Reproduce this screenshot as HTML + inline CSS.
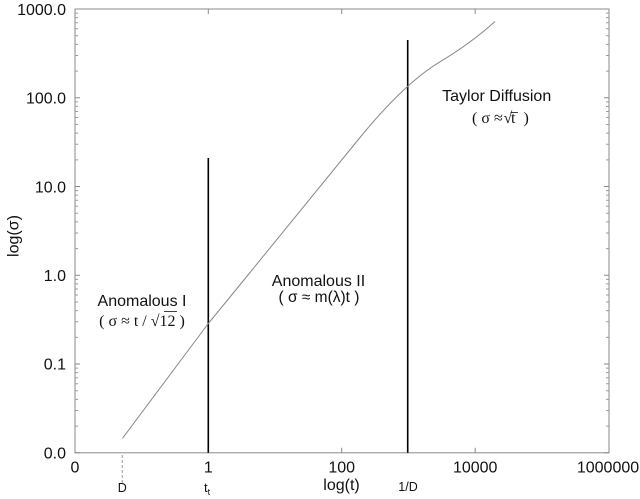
<!DOCTYPE html>
<html>
<head>
<meta charset="utf-8">
<style>
  html, body { margin: 0; padding: 0; background: #ffffff; }
  svg { display: block; }
  .sans { font-family: "Liberation Sans", "DejaVu Sans", sans-serif; }
  .serif { font-family: "Liberation Serif", "DejaVu Serif", serif; }
</style>
</head>
<body>
<svg width="640" height="499" viewBox="0 0 640 499" xmlns="http://www.w3.org/2000/svg">
  <rect x="0" y="0" width="640" height="499" fill="#ffffff"/>

  <!-- frame -->
  <rect x="75" y="9" width="534" height="443.8" fill="none" stroke="#8a8a8a" stroke-width="1"/>

  <!-- major y ticks left & right -->
  <path d="M75 9 h5 M75 97.8 h5 M75 186.55 h5 M75 275.3 h5 M75 364.05 h5 M75 452.8 h5
           M609 9 h-5 M609 97.8 h-5 M609 186.55 h-5 M609 275.3 h-5 M609 364.05 h-5 M609 452.8 h-5"
        stroke="#8a8a8a" stroke-width="1" fill="none"/>

  <!-- minor y ticks left -->
  <path d="M75 426.08 h3 M75 410.46 h3 M75 399.37 h3 M75 390.77 h3 M75 383.74 h3 M75 377.8 h3 M75 372.65 h3 M75 368.11 h3
           M75 337.33 h3 M75 321.71 h3 M75 310.62 h3 M75 302.02 h3 M75 294.99 h3 M75 289.05 h3 M75 283.9 h3 M75 279.36 h3
           M75 248.58 h3 M75 232.96 h3 M75 221.87 h3 M75 213.27 h3 M75 206.24 h3 M75 200.3 h3 M75 195.15 h3 M75 190.61 h3
           M75 159.83 h3 M75 144.21 h3 M75 133.12 h3 M75 124.52 h3 M75 117.49 h3 M75 111.55 h3 M75 106.4 h3 M75 101.86 h3
           M75 71.08 h3 M75 55.46 h3 M75 44.37 h3 M75 35.77 h3 M75 28.74 h3 M75 22.8 h3 M75 17.65 h3 M75 13.11 h3"
        stroke="#9a9a9a" stroke-width="1" fill="none"/>
  <!-- minor y ticks right -->
  <path d="M609 426.08 h-3 M609 410.46 h-3 M609 399.37 h-3 M609 390.77 h-3 M609 383.74 h-3 M609 377.8 h-3 M609 372.65 h-3 M609 368.11 h-3
           M609 337.33 h-3 M609 321.71 h-3 M609 310.62 h-3 M609 302.02 h-3 M609 294.99 h-3 M609 289.05 h-3 M609 283.9 h-3 M609 279.36 h-3
           M609 248.58 h-3 M609 232.96 h-3 M609 221.87 h-3 M609 213.27 h-3 M609 206.24 h-3 M609 200.3 h-3 M609 195.15 h-3 M609 190.61 h-3
           M609 159.83 h-3 M609 144.21 h-3 M609 133.12 h-3 M609 124.52 h-3 M609 117.49 h-3 M609 111.55 h-3 M609 106.4 h-3 M609 101.86 h-3
           M609 71.08 h-3 M609 55.46 h-3 M609 44.37 h-3 M609 35.77 h-3 M609 28.74 h-3 M609 22.8 h-3 M609 17.65 h-3 M609 13.11 h-3"
        stroke="#9a9a9a" stroke-width="1" fill="none"/>

  <!-- x ticks top & bottom -->
  <path d="M208.3 9 v5 M341.7 9 v5 M475.2 9 v5
           M208.3 452.8 v-5 M341.7 452.8 v-5 M475.2 452.8 v-5"
        stroke="#8a8a8a" stroke-width="1" fill="none"/>

  <!-- y tick labels -->
  <g class="sans" font-size="16" fill="#111" text-anchor="end">
    <text x="66" y="14.8">1000.0</text>
    <text x="66" y="103.5">100.0</text>
    <text x="66" y="192.3">10.0</text>
    <text x="66" y="281">1.0</text>
    <text x="66" y="369.7">0.1</text>
    <text x="66" y="458.5">0.0</text>
  </g>

  <!-- x tick labels -->
  <g class="sans" font-size="16" fill="#111" text-anchor="middle">
    <text x="75" y="472.3">0</text>
    <text x="208.3" y="472.3">1</text>
    <text x="341.7" y="472.3">100</text>
    <text x="475.2" y="472.3">10000</text>
    <text x="608" y="472.3">1000000</text>
  </g>

  <!-- axis titles -->
  <text class="sans" font-size="16" fill="#111" text-anchor="middle" x="341.5" y="490">log(t)</text>
  <text class="sans" font-size="16" fill="#111" text-anchor="middle" transform="translate(18.5,236) rotate(-90)">log(σ)</text>

  <!-- special x labels -->
  <text class="sans" font-size="12.5" fill="#111" text-anchor="middle" x="122.3" y="492">D</text>
  <text class="sans" font-size="13" fill="#111" x="204" y="492">t<tspan font-size="9" dy="3">t</tspan></text>
  <text class="sans" font-size="12.5" fill="#111" text-anchor="middle" x="408" y="491">1/D</text>

  <!-- dashed line at D -->
  <line x1="122.3" y1="455" x2="122.3" y2="483" stroke="#aaaaaa" stroke-width="1.2" stroke-dasharray="3,2"/>

  <!-- vertical regime lines -->
  <line x1="208.3" y1="158" x2="208.3" y2="452.8" stroke="#000" stroke-width="1.6"/>
  <line x1="407.7" y1="40" x2="407.7" y2="452.8" stroke="#000" stroke-width="1.6"/>

  <!-- curve -->
  <path fill="none" stroke="#888888" stroke-width="1" stroke-linejoin="round"
    d="M122.5,438.3 L208.3,323.5 L230,297 L250,272.5 L360,137.5 C386.7,104.8 413.3,77.8 440,61.8 C458,51 477,37.7 495,21.5"/>

  <!-- annotations -->
  <text class="sans" font-size="16" fill="#111" text-anchor="middle" x="142" y="306">Anomalous I</text>
  <text class="serif" font-size="16" fill="#111" text-anchor="middle" x="142" y="326">( σ ≈ t / √12 )</text>
  <line x1="164" y1="311.5" x2="177" y2="311.5" stroke="#111" stroke-width="0.8"/>

  <text class="sans" font-size="16" fill="#111" text-anchor="middle" x="318.5" y="286">Anomalous II</text>
  <text class="sans" font-size="15.5" fill="#111" text-anchor="middle" x="319" y="302">( σ ≈ m(λ)t )</text>

  <text class="sans" font-size="16" fill="#111" text-anchor="middle" x="496.7" y="101">Taylor Diffusion</text>
  <g class="serif" font-size="16" fill="#111">
    <text x="472" y="123">( σ ≈</text>
    <text x="503.5" y="123">√</text>
    <text x="511" y="123">t</text>
    <text x="523.5" y="123">)</text>
  </g>
  <line x1="510.5" y1="112.5" x2="518" y2="112.5" stroke="#111" stroke-width="0.8"/>
</svg>
</body>
</html>
